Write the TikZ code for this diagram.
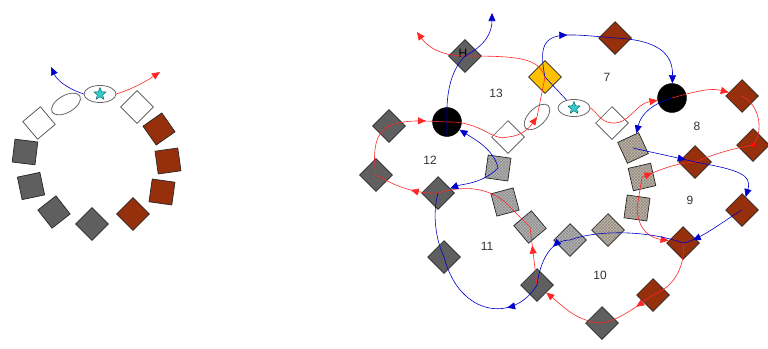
\documentclass[tikz,border=0pt]{standalone}
\usepackage{fontspec}
\setmainfont{Liberation Sans}
\usetikzlibrary{shapes.geometric,arrows.meta,patterns,decorations.markings}

\definecolor{boxgray}{RGB}{95,95,95}
\definecolor{boxbrown}{RGB}{150,48,12}
\definecolor{boxyellow}{RGB}{255,192,0}
\definecolor{hatchtan}{RGB}{200,182,160}
\definecolor{hatchgray}{RGB}{185,185,185}
\definecolor{starcyan}{RGB}{51,204,204}

\begin{document}
\begin{tikzpicture}[x=1pt, y=-1pt,
    sqbox/.style={draw=black!85, line width=0.7pt, minimum size=23pt, inner sep=0pt},
    graybox/.style={sqbox, fill=boxgray},
    brownbox/.style={sqbox, fill=boxbrown},
    whitebox/.style={sqbox, draw=black!70, fill=white},
    yellowbox/.style={sqbox, fill=boxyellow},
    tanhatch/.style={sqbox, preaction={fill=hatchtan}, pattern=crosshatch, pattern color=black!45},
    grayhatch/.style={sqbox, preaction={fill=hatchgray}, pattern=crosshatch, pattern color=black!45},
    hub/.style={circle, fill=black, draw=black, minimum size=29pt, inner sep=0pt},
    ringell/.style={ellipse, draw=black!60, line width=0.8pt, minimum width=32pt, minimum height=17pt, inner sep=0pt},
    starmark/.style={star, star points=5, star point ratio=2.3, fill=starcyan, draw=teal!70!black, minimum size=13pt, inner sep=0pt},
    redflow/.style={draw=red!85, line width=0.6pt},
    blueflow/.style={draw=blue!80!black, line width=0.6pt},
    flowtip/.style={-{Triangle[length=8pt,width=7pt]}},
    midtip/.style={postaction={decorate}, decoration={markings, mark=at position #1 with {\arrow{Triangle[length=8pt,width=7pt]}}}},
    zonelabel/.style={font=\fontsize{12}{14}\selectfont, text=black!80}
]
    \useasboundingbox (0,0) rectangle (768,348);

    % ====== Left ring ======
    \node[ringell] (lstar) at (100,94) {};
    \node[starmark] (lstarin) at (100,94) {};
    \node[ringell, rotate=30] (lell) at (66,104) {};
    \node[whitebox, rotate=45] (lw1) at (137,107) {};
    \node[brownbox, rotate=35] (lb1) at (159,129) {};
    \node[brownbox, rotate=8] (lb2) at (168,161) {};
    \node[brownbox, rotate=-8] (lb3) at (162,192) {};
    \node[brownbox, rotate=45] (lb4) at (133,214) {};
    \node[graybox, rotate=45] (lg1) at (92,224) {};
    \node[graybox, rotate=38] (lg2) at (54,212) {};
    \node[graybox, rotate=12] (lg3) at (31,186) {};
    \node[graybox, rotate=-7] (lg4) at (25,152) {};
    \node[whitebox, rotate=40] (lw2) at (39,123) {};

    \coordinate (lbend) at (51,67);
    \coordinate (lrend) at (160,72);
    \draw[blueflow, flowtip] (lstar.west) .. controls (66,88) and (57,80) .. (lbend);
    \draw[redflow, flowtip] (lstar.east) .. controls (135,88) and (148,80) .. (lrend);

    % ====== Right ring (same ring, embedded) ======
    \node[whitebox, rotate=45] (rw1) at (508,137) {};
    \node[ringell, rotate=45] (rell) at (537,117) {};
    \node[ringell] (rstar) at (574,108) {};
    \node[starmark] (rstarin) at (574,108) {};
    \node[whitebox, rotate=45] (rw2) at (612,123) {};
    \node[tanhatch, rotate=25] (rh1) at (633,148) {};
    \node[tanhatch, rotate=13] (rh2) at (642,177) {};
    \node[tanhatch, rotate=-8] (rh3) at (637,208) {};
    \node[tanhatch, rotate=45] (rh4) at (608,230) {};
    \node[grayhatch, rotate=45] (rh5) at (570,240) {};
    \node[grayhatch, rotate=40] (rh6) at (530,227) {};
    \node[grayhatch, rotate=15] (rh7) at (505,202) {};
    \node[grayhatch, rotate=-8] (rh8) at (498,168) {};

    % ====== Outer nodes ======
    \node[graybox, rotate=45] (hd) at (465,56) {};
    \node[zonelabel, text=black] (hlabel) at (463,53) {H};
    \node[yellowbox, rotate=45] (yel) at (545,77) {};
    \node[hub] (bc1) at (447,122) {};
    \node[hub] (bc2) at (672,98) {};
    \node[graybox, rotate=45] (g1) at (389,126) {};
    \node[graybox, rotate=45] (g2) at (376,175) {};
    \node[graybox, rotate=45] (g3) at (438,193) {};
    \node[graybox, rotate=45] (g4) at (444,257) {};
    \node[graybox, rotate=45] (g5) at (537,285) {};
    \node[graybox, rotate=45] (g6) at (602,323) {};
    \node[brownbox, rotate=45] (b1) at (615,38) {};
    \node[brownbox, rotate=45] (b2) at (742,96) {};
    \node[brownbox, rotate=45] (b3) at (753,145) {};
    \node[circle, fill=red, minimum size=5pt, inner sep=0pt] (b3dot) at (b3) {};
    \node[brownbox, rotate=45] (b4) at (695,162) {};
    \node[brownbox, rotate=45] (b5) at (742,210) {};
    \node[brownbox, rotate=45] (b6) at (683,243) {};
    \node[brownbox, rotate=45] (b7) at (653,295) {};

    % ====== Zone numbers ======
    \node[zonelabel] (z13) at (496,93) {13};
    \node[zonelabel] (z7) at (607,77) {7};
    \node[zonelabel] (z8) at (697,126) {8};
    \node[zonelabel] (z12) at (430,160) {12};
    \node[zonelabel] (z9) at (690,200) {9};
    \node[zonelabel] (z11) at (487,246) {11};
    \node[zonelabel] (z10) at (600,275) {10};

    % ====== Red flow ======
    \coordinate (rtop) at (417,32);
    \draw[redflow, midtip=0.68] (g5.center) -- (rh6.center);
    \draw[redflow] (rh6.center) -- (rh7.center) .. controls (485,186) and (462,186) .. (g3.center);
    \draw[redflow, midtip=0.42] (g3.center) .. controls (415,194) and (395,186) .. (g2.center);
    \draw[redflow] (g2.center) .. controls (372,150) and (376,132) .. (g1.center);
    \draw[redflow, midtip=0.64] (g1.center) .. controls (405,119) and (425,121) .. (bc1.center);
    \draw[redflow, flowtip] (bc1.center) .. controls (482,121) and (492,142) .. (rw1.center)
        .. controls (522,136) and (530,127) .. (rell.center);
    \draw[redflow] (rell.center) -- (yel.center);
    \draw[redflow, flowtip] (yel.center) .. controls (538,58) and (520,56) .. (hd.center)
        .. controls (440,56) and (427,46) .. (rtop);
    \draw[redflow, flowtip] (rstar.east) .. controls (597,112) and (600,122) .. (rw2.center)
        .. controls (630,124) and (635,104) .. (bc2);
    \draw[redflow, flowtip] (bc2.center) .. controls (700,90) and (712,88) .. (b2);
    \draw[redflow] (b2.center) .. controls (760,105) and (764,132) .. (b3.center);
    \draw[redflow] (b3.center) .. controls (725,150) and (710,156) .. (b4.center);
    \draw[redflow, midtip=0.2] (rh2.center) .. controls (660,170) and (675,163) .. (b4.center);
    \draw[redflow] (rh3.center) -- (rh2.center);
    \draw[redflow, flowtip] (rh3.center) .. controls (638,232) and (652,238) .. (b6);
    \draw[redflow] (b6.center) .. controls (686,268) and (672,288) .. (b7.center);
    \draw[redflow, midtip=0.35] (b7.center) .. controls (632,310) and (618,320) .. (g6.center);
    \draw[redflow, flowtip] (g6.center) .. controls (578,322) and (565,308) .. (g5);

    % ====== Blue flow ======
    \coordinate (btop) at (492,13);
    \draw[blueflow, flowtip] (hd.center) .. controls (486,45) and (492,32) .. (btop);
    \draw[blueflow] (hd.center) .. controls (449,72) and (446,98) .. (bc1.center) -- (bc1.south);
    \draw[blueflow, flowtip] (rh8.center) .. controls (494,150) and (476,140) .. (bc1);
    \draw[blueflow, flowtip] (rh8.center) .. controls (482,184) and (462,184) .. (g3);
    \draw[blueflow] (g3.center) .. controls (432,215) and (436,240) .. (g4.center);
    \draw[blueflow, midtip=0.3] (g5.center) .. controls (515,322) and (460,318) .. (g4.center);
    \draw[blueflow, midtip=0.76] (b6.center) .. controls (650,231) and (600,229) .. (rh5.center)
        .. controls (550,240) and (540,262) .. (g5.center);
    \draw[blueflow, midtip=0.85] (b5.center) .. controls (722,222) and (700,240) .. (b6.center);
    \draw[blueflow, midtip=0.85] (rh1.center) .. controls (650,152) and (670,156) .. (b4.center);
    \draw[blueflow, flowtip] (b4.center) .. controls (740,170) and (752,175) .. (b5);
    \draw[blueflow, flowtip] (bc2.center) .. controls (652,104) and (641,114) .. (rh1);
    \draw[blueflow, midtip=0.55] (yel.center) .. controls (535,28) and (555,33) .. (b1.center);
    \draw[blueflow, flowtip] (b1.center) .. controls (660,40) and (673,55) .. (bc2);
    \draw[blueflow] (yel.center) -- (rstar);

\end{tikzpicture}
\end{document}
